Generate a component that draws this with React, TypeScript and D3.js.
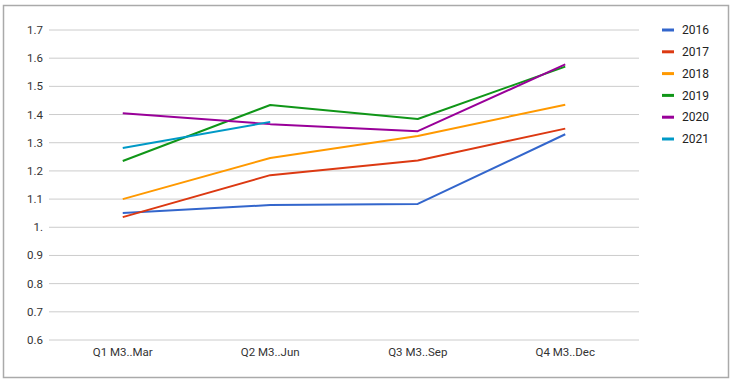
import React from "react";
import * as d3 from "d3";

const categories = ["Q1 M3..Mar", "Q2 M3..Jun", "Q3 M3..Sep", "Q4 M3..Dec"];
const seriesNames = ["2016", "2017", "2018", "2019", "2020", "2021"];
const colors = ["#3366cc", "#dc3912", "#ff9900", "#109618", "#990099", "#0099c6"];
const v2016 = [1.051, 1.079, 1.083, 1.33];
const v2017 = [1.036, 1.185, 1.237, 1.35];
const v2018 = [1.1, 1.246, 1.324, 1.435];
const v2019 = [1.235, 1.434, 1.384, 1.57];
const v2020 = [1.405, 1.366, 1.341, 1.578];
const v2021 = [1.281, 1.374];
const yTicks = [0.6, 0.7, 0.8, 0.9, 1.0, 1.1, 1.2, 1.3, 1.4, 1.5, 1.6, 1.7];
const yTickLabels = ["0.6", "0.7", "0.8", "0.9", "1.", "1.1", "1.2", "1.3", "1.4", "1.5", "1.6", "1.7"];

const series = [v2016, v2017, v2018, v2019, v2020, v2021];

export default function App() {
  const W = 738, H = 383;
  const left = 49, right = 639, top = 30, bottom = 340;
  const x = d3.scalePoint<string>().domain(categories).range([left, right]).padding(0.5);
  const y = d3.scaleLinear().domain([0.6, 1.7]).range([bottom, top]);
  const line = d3.line<number>()
    .x((_, i) => x(categories[i]) as number)
    .y((d) => y(d));
  const font = "Roboto, 'Noto Sans', sans-serif";
  return (
    <svg width={W} height={H} style={{ position: "absolute", left: 0, top: 0, fontFamily: font }}>
      <rect x={0} y={0} width={W} height={H} fill="#fff" />
      <rect x={3.5} y={5.5} width={725} height={372} fill="none" stroke="#aaa" strokeWidth={1.5} />
      {yTicks.map((t, i) => (
        <g key={i}>
          <line x1={left} x2={right} y1={y(t)} y2={y(t)} stroke="#cccccc" strokeWidth={1} />
          <text x={43} y={y(t)} dy="0.35em" textAnchor="end" fontSize={11.5} fill="#333">
            {yTickLabels[i]}
          </text>
        </g>
      ))}
      {categories.map((c) => (
        <text key={c} x={x(c)} y={352} dy="0.35em" textAnchor="middle" fontSize={11.5} fill="#333">
          {c}
        </text>
      ))}
      {series.map((s, i) => (
        <path key={i} d={line(s) || ""} fill="none" stroke={colors[i]} strokeWidth={2} strokeLinejoin="round" />
      ))}
      {seriesNames.map((n, i) => (
        <g key={n} transform={`translate(662, ${30 + i * 21.8})`}>
          <line x1={0} x2={12} y1={0} y2={0} stroke={colors[i]} strokeWidth={3} />
          <text x={20} y={0} dy="0.35em" fontSize={12} fill="#222">
            {n}
          </text>
        </g>
      ))}
    </svg>
  );
}
